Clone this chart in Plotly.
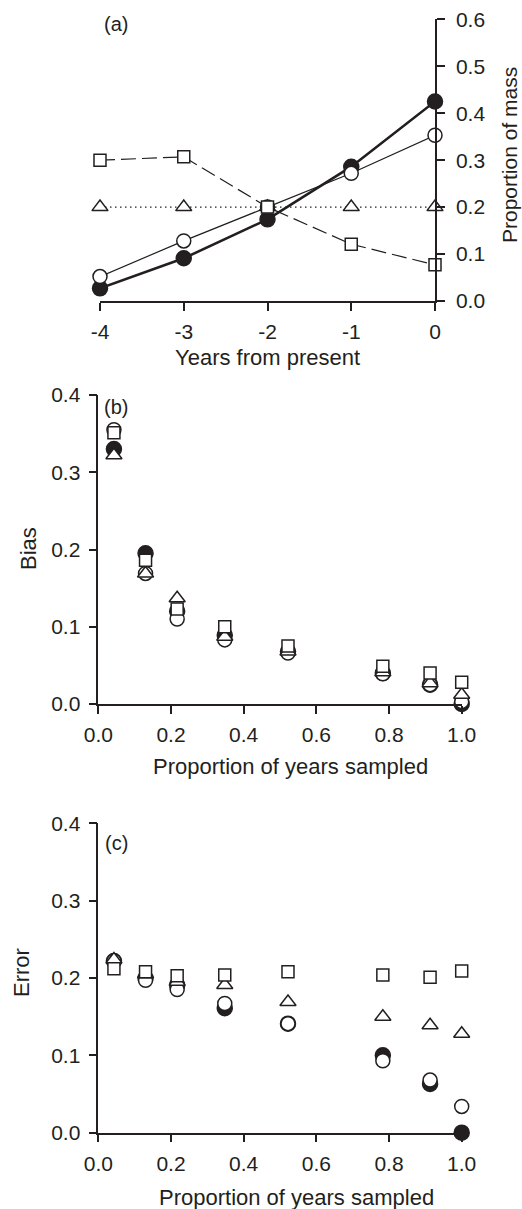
import plotly.graph_objects as go

W, H = 522, 1209

# ---------------- data ----------------
# Panel (a)
years = [-4, -3, -2, -1, 0]
mass_filled = [0.027, 0.091, 0.174, 0.286, 0.425]
mass_open = [0.052, 0.128, 0.200, 0.272, 0.353]
mass_square = [0.300, 0.307, 0.200, 0.121, 0.077]
mass_triangle = [0.200, 0.200, 0.200, 0.200, 0.200]
year_ticks = [-4, -3, -2, -1, 0]
year_ticklabels = ["-4", "-3", "-2", "-1", "0"]
mass_ticks = [0.0, 0.1, 0.2, 0.3, 0.4, 0.5, 0.6]

# Panels (b) and (c)
prop_sampled = [0.043, 0.130, 0.217, 0.348, 0.522, 0.783, 0.913, 1.000]
bias_filled = [0.330, 0.195, 0.120, 0.089, 0.068, 0.040, 0.025, 0.000]
bias_open = [0.355, 0.169, 0.110, 0.083, 0.066, 0.039, 0.025, 0.003]
bias_triangle = [0.322, 0.169, 0.137, 0.087, 0.068, 0.041, 0.027, 0.012]
bias_square = [0.351, 0.186, 0.123, 0.100, 0.075, 0.049, 0.040, 0.028]

error_filled = [0.222, 0.200, 0.191, 0.161, 0.141, 0.100, 0.063, 0.000]
error_open = [0.222, 0.197, 0.185, 0.167, 0.141, 0.093, 0.068, 0.034]
error_triangle = [0.224, 0.205, 0.195, 0.191, 0.169, 0.150, 0.139, 0.128]
error_square = [0.212, 0.208, 0.203, 0.204, 0.208, 0.204, 0.201, 0.209]

prop_ticks = [0.0, 0.2, 0.4, 0.6, 0.8, 1.0]
err_ticks = [0.0, 0.1, 0.2, 0.3, 0.4]

# ---------------- style ----------------
INK = "#231f20"
FONT = "Liberation Sans, Arial, sans-serif"
TICKFONT = dict(family=FONT, size=21, color=INK)
TITLEFONT = dict(family=FONT, size=22, color=INK)


def px_x(p):
    return p / W


def px_y(p):
    return 1 - p / H


fig = go.Figure()


def add_series(xa, ya, x, y, kind, line=None):
    mode = "lines+markers" if line else "markers"
    if kind == "filled":
        marker = dict(symbol="circle", size=15, color=INK, line=dict(color=INK, width=1.5))
    elif kind == "open":
        marker = dict(symbol="circle", size=14, color="white", line=dict(color=INK, width=1.5))
    elif kind == "triangle":
        marker = dict(symbol="triangle-up", size=14, color="white", line=dict(color=INK, width=1.5))
    else:
        marker = dict(symbol="square", size=12, color="white", line=dict(color=INK, width=1.5))
    fig.add_trace(go.Scatter(
        x=x, y=y, xaxis=xa, yaxis=ya, mode=mode, marker=marker,
        line=line if line else None, cliponaxis=False, showlegend=False,
        hoverinfo="skip"))


# Panel (a)
add_series("x", "y", years, mass_triangle, "triangle", dict(color=INK, width=1.2, dash="1.5px,3.5px"))
add_series("x", "y", years, mass_filled, "filled", dict(color=INK, width=2.6))
add_series("x", "y", years, mass_open, "open", dict(color=INK, width=1.2))
add_series("x", "y", years, mass_square, "square", dict(color=INK, width=1.2, dash="15px,6px"))

# Panel (b)
add_series("x2", "y2", prop_sampled, bias_filled, "filled")
add_series("x2", "y2", prop_sampled, bias_open, "open")
add_series("x2", "y2", prop_sampled, bias_triangle, "triangle")
add_series("x2", "y2", prop_sampled, bias_square, "square")

# Panel (c)
add_series("x3", "y3", prop_sampled, error_filled, "filled")
add_series("x3", "y3", prop_sampled, error_open, "open")
add_series("x3", "y3", prop_sampled, error_triangle, "triangle")
add_series("x3", "y3", prop_sampled, error_square, "square")

axis_common = dict(showline=True, linecolor=INK, linewidth=1.5, ticks="outside",
                   ticklen=8, tickwidth=1.5, tickcolor=INK, showgrid=False,
                   zeroline=False, tickfont=TICKFONT, fixedrange=True)

fig.update_layout(
    width=W, height=H, margin=dict(l=0, r=0, t=0, b=0, autoexpand=False),
    paper_bgcolor="white", plot_bgcolor="white",
    xaxis=dict(axis_common, domain=[px_x(100), px_x(435)], range=[-4, 0],
               anchor="y", tickvals=year_ticks, ticktext=year_ticklabels,
               ticklabelstandoff=3),
    yaxis=dict(axis_common, domain=[px_y(301), px_y(19.3)], range=[0, 0.6],
               anchor="x", side="right", tickvals=mass_ticks, tickformat=".1f",
               ticklabelstandoff=7),
    xaxis2=dict(axis_common, domain=[px_x(98.3), px_x(461.7)], range=[0, 1],
                anchor="y2", tickvals=prop_ticks, tickformat=".1f", ticklabelstandoff=3),
    yaxis2=dict(axis_common, domain=[px_y(704), px_y(395)], range=[0, 0.4],
                anchor="x2", tickvals=err_ticks, tickformat=".1f", ticklabelstandoff=4),
    xaxis3=dict(axis_common, domain=[px_x(98.3), px_x(461.7)], range=[0, 1],
                anchor="y3", tickvals=prop_ticks, tickformat=".1f", ticklabelstandoff=3),
    yaxis3=dict(axis_common, domain=[px_y(1132.7), px_y(823.3)], range=[0, 0.4],
                anchor="x3", tickvals=err_ticks, tickformat=".1f", ticklabelstandoff=4),
)


def label(text, x, y, angle=0, font=TITLEFONT):
    fig.add_annotation(text=text, x=px_x(x), y=px_y(y), xref="paper", yref="paper",
                       showarrow=False, textangle=angle, font=font,
                       xanchor="center", yanchor="middle")


label("Years from present", 267, 357)
label("Proportion of mass", 509, 155, angle=-90, font=dict(family=FONT, size=21, color=INK))
label("Bias", 28, 549, angle=-90)
label("Proportion of years sampled", 290, 766)
label("Error", 21, 973, angle=-90)
label("Proportion of years sampled", 296, 1197)
label("(a)", 116, 24, font=dict(family=FONT, size=20, color=INK))
label("(b)", 116, 407, font=dict(family=FONT, size=20, color=INK))
label("(c)", 116, 843, font=dict(family=FONT, size=20, color=INK))

fig.write_html("out.html")
